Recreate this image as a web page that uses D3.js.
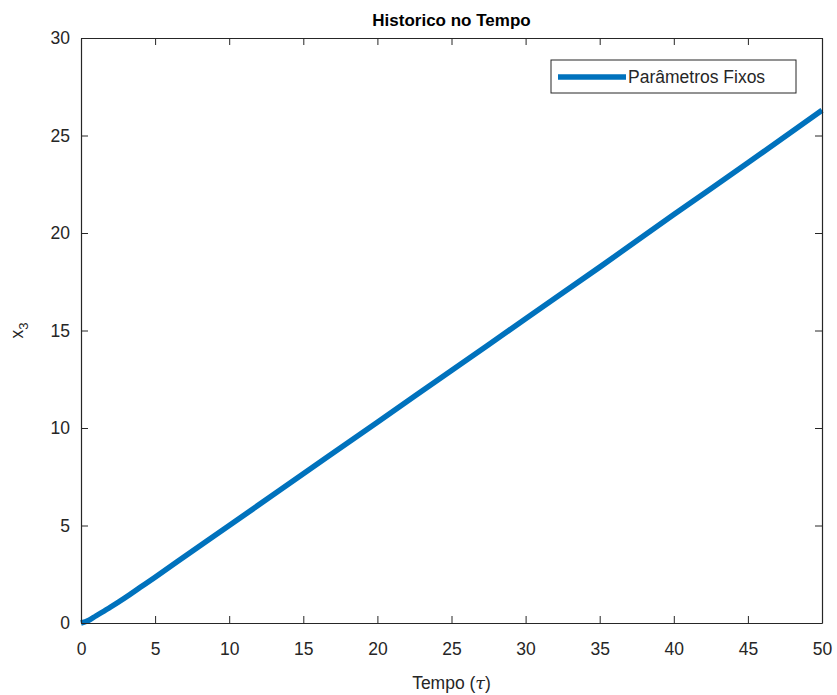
<!DOCTYPE html>
<html>
<head>
<meta charset="utf-8">
<script src="https://cdn.jsdelivr.net/npm/d3@7"></script>
<style>
  body { margin: 0; background: #fff; }
  text { font-family: "Liberation Sans", Arial, sans-serif; fill: #262626; }
</style>
</head>
<body>
<svg id="chart" width="837" height="695"></svg>
<script>
// time values (tau) and x3 readings
const tempo = [0, 0.5, 1, 2, 3, 4, 5, 7.5, 10, 15, 20, 25, 30, 35, 40, 45, 50];
const x3 = [0, 0.13, 0.36, 0.82, 1.31, 1.83, 2.35, 3.68, 5.0, 7.65, 10.3, 12.95, 15.6, 18.25, 20.95, 23.6, 26.3];
const xTicks = [0, 5, 10, 15, 20, 25, 30, 35, 40, 45, 50];
const yTicks = [0, 5, 10, 15, 20, 25, 30];
const seriesName = 'Parâmetros Fixos';

const svg = d3.select('#chart');
const margin = {left: 81, top: 38, right: 837 - 822, bottom: 695 - 623};
const width = 837 - margin.left - margin.right;
const height = 695 - margin.top - margin.bottom;

const xScale = d3.scaleLinear().domain([0, 50]).range([0, width]);
const yScale = d3.scaleLinear().domain([0, 30]).range([height, 0]);

const g = svg.append('g').attr('transform', 'translate(' + margin.left + ',' + margin.top + ')');

// data line
const line = d3.line()
    .x(function(d, i){ return xScale(tempo[i]); })
    .y(function(d){ return yScale(d); })
    .curve(d3.curveMonotoneX);

g.append('path')
    .datum(x3)
    .attr('d', line)
    .attr('fill', 'none')
    .attr('stroke', '#0072BD')
    .attr('stroke-width', 5.5)
    .attr('stroke-linecap', 'butt');

// axes (ticks inward, box style)
function styleAxis(sel){
    sel.select('.domain').attr('stroke', '#262626').attr('stroke-width', 1.2);
    sel.selectAll('.tick line').attr('stroke', '#262626');
    sel.selectAll('.tick text').style('font-size', '17.5px').attr('fill', '#262626');
}

const xAxis = g.append('g').attr('transform', 'translate(0,' + height + ')')
    .call(d3.axisBottom(xScale).tickValues(xTicks).tickSizeInner(-7).tickSizeOuter(0).tickPadding(19));
styleAxis(xAxis);
xAxis.selectAll('.tick text').attr('dy', '0.75em');

const xTop = g.append('g')
    .call(d3.axisTop(xScale).tickValues(xTicks).tickSizeInner(-7).tickSizeOuter(0).tickFormat(''));
styleAxis(xTop);

const yAxis = g.append('g')
    .call(d3.axisLeft(yScale).tickValues(yTicks).tickSizeInner(-7).tickSizeOuter(0).tickPadding(11));
styleAxis(yAxis);

const yRight = g.append('g').attr('transform', 'translate(' + width + ',0)')
    .call(d3.axisRight(yScale).tickValues(yTicks).tickSizeInner(-7).tickSizeOuter(0).tickFormat(''));
styleAxis(yRight);

// title
svg.append('text')
    .attr('x', margin.left + width / 2)
    .attr('y', 26)
    .attr('text-anchor', 'middle')
    .style('font-size', '17px')
    .style('font-weight', 'bold')
    .style('fill', '#000')
    .text('Historico no Tempo');

// x label
const xl = svg.append('text')
    .attr('x', margin.left + width / 2)
    .attr('y', 689)
    .attr('text-anchor', 'middle')
    .style('font-size', '17.5px');
xl.append('tspan').text('Tempo (');
xl.append('tspan').style('font-family', '"DejaVu Serif", serif').style('font-style', 'italic').text('τ');
xl.append('tspan').text(')');

// y label
const yl = svg.append('text')
    .attr('transform', 'translate(23,' + (margin.top + height / 2) + ') rotate(-90)')
    .attr('text-anchor', 'middle')
    .style('font-size', '17.5px');
yl.append('tspan').text('x');
yl.append('tspan').attr('dy', 5).style('font-size', '13px').text('3');

// legend
const legend = svg.append('g').attr('transform', 'translate(551,60)');
legend.append('rect')
    .attr('width', 245).attr('height', 33)
    .attr('fill', '#fff').attr('stroke', '#262626').attr('stroke-width', 1);
legend.append('line')
    .attr('x1', 7).attr('x2', 75).attr('y1', 17).attr('y2', 17)
    .attr('stroke', '#0072BD').attr('stroke-width', 5.5);
legend.append('text')
    .attr('x', 77).attr('y', 23)
    .style('font-size', '17.5px')
    .text(seriesName);
</script>
</body>
</html>
